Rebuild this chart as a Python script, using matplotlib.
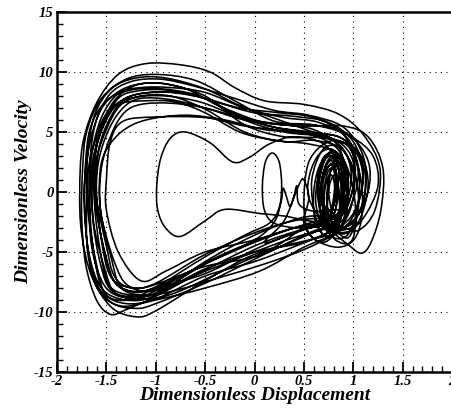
import numpy as np
import matplotlib
matplotlib.use("Agg")
import matplotlib.pyplot as plt
from matplotlib.path import Path
from matplotlib.patches import PathPatch
from matplotlib.ticker import MultipleLocator

# ---------------- data (keypoints: displacement, velocity) ----------------
loop_a = [(0.95,-3.3),(0.55,-4.0),(0.0,-5.2),(-0.5,-7.4),(-1.0,-9.9),(-1.2,-10.4),(-1.45,-9.6),(-1.65,-7.0),
          (-1.75,-3.5),(-1.77,0.0),(-1.74,4.0),(-1.6,7.4),(-1.38,9.8),(-1.1,10.7),(-0.75,10.6),(-0.45,10.0),
          (-0.2,8.7),(0.1,7.6),(0.5,7.3),(0.85,6.5),(1.1,4.8),(1.27,2.0),(1.22,-1.5),(1.05,-3.2),(0.85,-2.8)]
cluster_1 = [(0.7,-2.5),(0.55,-0.5),(0.56,1.5),(0.66,3.2),(0.8,3.5),(0.9,2.0),(0.93,-0.5),(0.88,-2.8),
             (0.75,-3.3),(0.66,-1.5),(0.68,1.0),(0.76,2.6),(0.86,1.6),(0.87,-1.0),(0.8,-2.6),(0.7,-2.0),
             (0.72,0.5),(0.8,2.0),(0.84,0.4),(0.78,-1.8)]
loop_b = [(0.8,-2.6),(0.45,-3.2),(0.0,-4.5),(-0.5,-6.5),(-1.0,-8.7),(-1.3,-9.8),(-1.46,-10.2),(-1.6,-9.0),
          (-1.71,-6.0),(-1.75,-2.0),(-1.74,2.0),(-1.7,5.0),(-1.55,7.8),(-1.3,9.4),(-1.0,9.8),(-0.6,9.3),
          (-0.2,7.6),(0.2,5.9),(0.6,5.6),(0.95,4.8),(1.15,2.6),(1.15,0.0),(1.0,-2.5),(0.8,-3.2)]
loop_c = [(0.7,-3.0),(0.5,-3.6),(0.0,-5.6),(-0.5,-7.6),(-1.0,-9.3),(-1.2,-9.7),(-1.45,-9.2),(-1.63,-7.0),
          (-1.71,-3.0),(-1.72,1.0),(-1.64,5.0),(-1.48,8.0),(-1.25,9.2),(-0.95,9.4),(-0.6,8.8),(-0.2,7.8),
          (0.2,6.8),(0.55,6.4),(0.9,5.4),(1.1,3.0),(1.12,0.0),(1.0,-2.5),(0.8,-3.0)]
cluster_2 = [(0.74,-2.2),(0.64,0.5),(0.7,2.9),(0.85,2.9),(0.94,0.2),(0.9,-2.5),(0.75,-3.8),(0.62,-2.5),
             (0.6,0.0),(0.66,2.2),(0.78,3.0),(0.83,1.0),(0.8,-1.2),(0.74,-1.5),(0.76,0.6),(0.82,1.4),
             (0.86,-0.4),(0.84,-3.0),(0.7,-4.2),(0.55,-3.4),(0.5,-1.0),(0.55,2.5),(0.75,4.2),(0.95,3.8),
             (1.08,1.0),(1.08,-2.4),(0.98,-4.2),(0.82,-4.0)]
loop_d = [(0.75,-2.8),(0.5,-2.8),(0.1,-3.8),(-0.4,-5.5),(-1.0,-8.2),(-1.25,-9.0),(-1.5,-8.6),(-1.6,-6.0),
          (-1.68,-2.0),(-1.68,2.0),(-1.58,5.0),(-1.42,7.6),(-1.2,8.9),(-0.9,9.0),(-0.5,8.0),(-0.1,5.6),
          (0.3,4.6),(0.7,4.5),(1.0,3.6),(1.12,1.5),(1.08,-1.5),(0.9,-3.0)]
loop_e = [(0.8,-3.2),(0.45,-4.4),(0.0,-5.8),(-0.5,-7.0),(-1.0,-8.9),(-1.3,-9.3),(-1.52,-8.4),(-1.62,-5.5),
          (-1.67,-1.0),(-1.65,3.0),(-1.55,6.2),(-1.38,8.2),(-1.15,8.7),(-0.85,8.7),(-0.5,8.3),(-0.1,7.0),
          (0.3,6.2),(0.65,5.8),(0.95,4.4),(1.05,1.5),(0.98,-1.0),(0.85,-2.6)]
peanut = [(0.55,-2.4),(0.3,-2.0),(0.06,-1.8),(-0.3,-1.45),(-0.5,-2.4),(-0.75,-3.7),(-0.9,-3.0),(-0.98,-1.5),
          (-0.99,0.5),(-0.95,2.8),(-0.85,4.5),(-0.7,5.0),(-0.45,4.1),(-0.22,2.5),(-0.05,2.9),(0.15,4.0),
          (0.4,4.6),(0.7,4.0),(0.85,2.0),(0.82,-0.5),(0.72,-2.6)]
loop_f = [(0.65,-2.4),(0.4,-3.0),(0.0,-4.2),(-0.5,-6.0),(-1.0,-8.0),(-1.22,-8.7),(-1.45,-8.2),(-1.56,-6.0),
          (-1.64,-2.0),(-1.64,2.5),(-1.52,5.8),(-1.38,7.8),(-1.2,8.4),(-0.9,8.5),(-0.5,7.8),(-0.1,6.0),
          (0.3,5.0),(0.7,4.6),(1.0,3.6),(1.1,1.0),(1.0,-2.0),(0.85,-3.2)]
cluster_3 = [(0.7,-3.0),(0.62,-0.8),(0.66,1.8),(0.76,3.0),(0.87,2.2),(0.9,-0.2),(0.86,-2.6),(0.76,-3.0),
             (0.69,-1.2),(0.7,1.0),(0.78,2.4),(0.84,1.2),(0.82,-1.4),(0.76,-2.2),(0.73,-0.4),(0.77,1.4),
             (0.81,0.6),(0.79,-1.0),(0.72,-3.6),(0.62,-2.2),(0.58,1.0),(0.7,3.6),(0.88,3.6),(1.02,1.5),
             (1.05,-1.5),(0.95,-3.8),(0.8,-3.0)]
loop_g = [(0.85,-3.0),(0.5,-4.2),(0.0,-5.0),(-0.5,-6.4),(-1.0,-8.5),(-1.25,-8.6),(-1.47,-7.8),(-1.56,-5.0),
          (-1.62,-1.0),(-1.62,3.0),(-1.5,6.0),(-1.35,7.6),(-1.15,8.2),(-0.85,8.3),(-0.5,7.8),(-0.15,7.0),
          (0.25,6.6),(0.6,6.2),(0.9,4.8),(1.02,2.0),(0.95,-1.0),(0.8,-2.5)]
loop_h = [(0.7,-2.7),(0.4,-3.4),(0.0,-4.8),(-0.5,-6.8),(-1.0,-8.0),(-1.2,-8.3),(-1.4,-7.7),(-1.5,-5.5),
          (-1.6,-1.5),(-1.6,2.5),(-1.5,5.2),(-1.36,7.2),(-1.15,8.0),(-0.85,8.0),(-0.5,6.9),(-0.1,5.0),
          (0.3,4.2),(0.6,4.3),(0.88,3.6),(0.98,1.5),(0.92,-1.2),(0.78,-2.8)]
ellipse_loop = [(0.7,-2.8),(0.45,-3.0),(0.2,-2.6),(0.1,-1.5),(0.08,0.5),(0.11,2.5),(0.18,3.25),(0.25,2.5),
                (0.275,0.5),(0.25,-1.3),(0.15,-2.6),(-0.1,-3.6),(-0.5,-5.4),(-1.0,-7.9),(-1.25,-8.3),
                (-1.46,-7.0),(-1.55,-4.0),(-1.6,0.0),(-1.58,3.5),(-1.46,6.2),(-1.3,7.8),(-1.05,8.3),
                (-0.7,8.2),(-0.35,7.4),(0.0,6.6),(0.4,6.3),(0.75,5.8),(1.0,4.2),(1.1,1.5),(1.02,-1.5),(0.85,-3.0)]
loop_i = [(0.75,-2.9),(0.45,-3.9),(0.0,-5.4),(-0.5,-6.2),(-1.0,-7.7),(-1.2,-8.0),(-1.42,-7.4),(-1.52,-5.0),
          (-1.6,-1.0),(-1.58,2.5),(-1.47,5.3),(-1.32,7.1),(-1.15,7.8),(-0.85,7.7),(-0.5,7.0),(-0.1,6.0),
          (0.3,5.6),(0.65,5.5),(0.98,4.6),(1.2,3.0),(1.25,0.5),(1.1,-2.2),(0.9,-3.5)]
cluster_4 = [(0.78,-2.4),(0.68,-0.6),(0.7,1.6),(0.8,2.8),(0.88,1.0),(0.87,-1.6),(0.78,-2.9),(0.7,-1.8),
             (0.68,0.8),(0.74,2.6),(0.83,2.9),(0.9,0.8),(0.88,-2.0),(0.8,-3.3),(0.72,-2.4)]
loop_j = [(0.7,-2.2),(0.4,-2.4),(0.0,-3.4),(-0.5,-5.2),(-1.0,-7.6),(-1.25,-8.0),(-1.42,-7.0),(-1.5,-4.5),
          (-1.6,-0.5),(-1.61,3.0),(-1.55,5.8),(-1.38,7.3),(-1.1,7.6),(-0.8,7.5),(-0.5,6.6),(-0.15,5.0),
          (0.2,4.3),(0.55,4.0),(0.85,3.2),(0.95,1.0),(0.88,-1.5),(0.75,-2.6)]
loop_k = [(0.8,-3.5),(0.5,-4.8),(0.1,-6.0),(-0.3,-7.0),(-0.8,-8.2),(-1.1,-8.6),(-1.35,-8.0),(-1.45,-5.5),
          (-1.56,-1.5),(-1.55,2.0),(-1.45,4.8),(-1.32,6.6),(-1.15,7.3),(-0.85,7.4),(-0.5,7.0),(-0.1,6.1),
          (0.3,5.6),(0.6,5.2),(0.85,3.8),(0.92,1.0),(0.86,-1.5),(0.75,-2.4)]
loop_l = [(0.7,-2.0),(0.45,-2.2),(0.0,-3.6),(-0.5,-5.8),(-1.0,-8.6),(-1.3,-9.0),(-1.55,-8.0),(-1.68,-5.0),
          (-1.72,-1.0),(-1.71,2.5),(-1.66,5.4),(-1.5,7.6),(-1.25,8.5),(-0.95,8.6),(-0.6,8.1),(-0.25,6.8),
          (0.1,5.8),(0.5,5.5),(0.9,5.5),(1.15,4.6),(1.3,2.0),(1.28,-1.5),(1.18,-4.2),(1.08,-5.1),
          (0.95,-4.4),(0.8,-3.4)]
cluster_5 = [(0.7,-2.6),(0.65,0.2),(0.72,2.8),(0.84,3.2),(0.94,1.2),(0.93,-1.8),(0.84,-3.4),(0.74,-2.6),
             (0.7,-0.4),(0.74,1.6),(0.8,1.9),(0.82,0.2),(0.78,-1.6),(0.72,-1.2)]
loop_m = [(0.7,-2.5),(0.4,-3.0),(0.0,-4.0),(-0.5,-5.0),(-0.9,-6.6),(-1.15,-7.4),(-1.38,-5.0),(-1.5,-1.5),
          (-1.5,1.0),(-1.46,4.2),(-1.33,5.9),(-1.0,6.25),(-0.5,6.2),(-0.1,5.5),(0.3,5.1),(0.6,4.7),
          (0.85,3.5),(0.95,1.0),(0.9,-1.5),(0.78,-2.8)]
loop_n = [(0.75,-3.0),(0.4,-3.8),(0.0,-5.0),(-0.5,-6.6),(-1.0,-8.2),(-1.28,-7.8),(-1.42,-5.8),(-1.55,-2.0),
          (-1.57,1.0),(-1.52,3.2),(-1.35,5.0),(-1.1,6.0),(-0.7,6.4),(-0.3,6.0),(0.1,5.2),(0.5,4.9),
          (0.85,4.0),(1.0,1.5),(0.95,-1.0),(0.82,-2.6)]
tangle = [(0.8,-2.0),(0.6,-2.8),(0.35,-3.6),(0.1,-4.2),(0.3,-2.4),(0.45,0.6),(0.5,1.0),(0.55,-0.5),
          (0.5,-2.6),(0.62,-4.0),(0.85,-4.6),(1.0,-3.8),(1.02,-1.0),(0.95,1.8),(0.85,3.0),(0.75,1.0),
          (0.78,-1.5),(0.85,-2.0)]
loop_o = [(0.85,-1.5),(0.6,-1.6),(0.45,-1.0),(0.43,0.5),(0.4,-0.3),(0.36,-1.2),(0.32,-0.3),(0.29,0.3),
          (0.27,-0.8),(0.2,-2.5),(0.0,-4.0),(-0.5,-6.0),(-1.0,-8.4),(-1.3,-8.8),(-1.52,-7.8),(-1.65,-4.5),
          (-1.67,0.0),(-1.65,4.0),(-1.56,6.8),(-1.35,8.5),(-1.05,9.1),(-0.7,8.6),(-0.3,6.9),(0.1,5.6),
          (0.5,5.0),(0.85,4.6),(1.08,3.0),(1.15,0.5),(1.05,-2.5),(0.85,-3.3)]
loop_p = [(0.8,-3.6),(0.5,-4.6),(0.05,-6.6),(-0.5,-8.0),(-1.0,-9.0),(-1.35,-9.5),(-1.58,-8.2),(-1.69,-5.0),
          (-1.7,-1.0),(-1.69,3.0),(-1.62,6.4),(-1.45,8.6),(-1.2,9.5),(-0.9,9.5),(-0.5,8.6),(-0.15,7.2),
          (0.25,6.0),(0.6,5.0),(0.9,4.4),(1.05,2.2),(1.05,-1.0),(0.95,-3.5),(0.8,-3.8)]
cluster_6 = [(0.72,-2.6),(0.64,-0.4),(0.68,2.4),(0.8,3.4),(0.9,2.0),(0.9,-0.8),(0.82,-2.8),(0.72,-3.0),
             (0.66,-1.0),(0.7,1.4),(0.79,2.2),(0.85,0.0),(0.8,-2.0)]
loop_q = [(0.75,-2.4),(0.5,-3.0),(0.2,-4.6),(-0.3,-6.5),(-0.8,-8.4),(-1.1,-8.9),(-1.4,-8.5),(-1.52,-6.3),
          (-1.63,-2.5),(-1.64,1.5),(-1.56,5.0),(-1.42,7.2),(-1.2,7.9),(-0.9,8.0),(-0.55,7.5),(-0.2,6.4),
          (0.2,5.4),(0.55,5.0),(0.85,4.2),(1.0,2.5),(1.0,-0.5),(0.9,-2.6),(0.76,-3.0)]

trajectory_order = [loop_a, cluster_1, loop_b, loop_c, cluster_2, loop_d, loop_e, peanut, loop_f,
                    cluster_3, loop_g, loop_h, ellipse_loop, loop_i, cluster_4, loop_j, loop_k,
                    loop_l, cluster_5, loop_m, loop_n, tangle, loop_o, loop_p, cluster_6, loop_q]

x_ticks = [-2, -1.5, -1, -0.5, 0, 0.5, 1, 1.5, 2]
x_tick_labels = ["-2", "-1.5", "-1", "-0.5", "0", "0.5", "1", "1.5", "2"]
y_ticks = [-15, -10, -5, 0, 5, 10, 15]
y_tick_labels = ["-15", "-10", "-5", "0", "5", "10", "15"]

# ---------------- drawing ----------------
def smooth_path(pts):
    P = np.asarray(pts, dtype=float)
    Pe = np.vstack([P[0], P, P[-1]])
    verts = [P[0]]
    codes = [Path.MOVETO]
    for i in range(len(P) - 1):
        p0, p1, p2, p3 = Pe[i], Pe[i + 1], Pe[i + 2], Pe[i + 3]
        c1 = p1 + (p2 - p0) / 6.0
        c2 = p2 - (p3 - p1) / 6.0
        verts += [c1, c2, p2]
        codes += [Path.CURVE4] * 3
    return Path(verts, codes)

all_pts = []
for seg in trajectory_order:
    all_pts.extend(seg)

fig = plt.figure(figsize=(4.51, 4.08), dpi=100)
ax = fig.add_axes([57 / 451, 36 / 408, 395 / 451, 360 / 408])
ax.set_xlim(-2, 2)
ax.set_ylim(-15, 15)

ax.add_patch(PathPatch(smooth_path(all_pts), fill=False, edgecolor="black", lw=1.15, zorder=3))

font = dict(family="Liberation Serif", weight="bold", style="italic")
ax.set_xticks(x_ticks)
ax.set_xticklabels(x_tick_labels, fontsize=10.5, **font)
ax.set_yticks(y_ticks)
ax.set_yticklabels(y_tick_labels, fontsize=10.5, **font)
ax.xaxis.set_minor_locator(MultipleLocator(0.1))
ax.yaxis.set_minor_locator(MultipleLocator(1))
ax.tick_params(which="both", direction="in", top=False, right=False, color="black")
ax.tick_params(which="major", length=7, width=1.3, pad=2.5)
ax.tick_params(which="minor", length=4, width=1.0)

ax.grid(True, which="major", color="black", linestyle=(0, (1, 4)), lw=0.8, zorder=0)
ax.set_axisbelow(True)

for side in ["left", "bottom", "top"]:
    ax.spines[side].set_linewidth(1.8)
ax.spines["right"].set_linewidth(1.0)

ax.set_xlabel("Dimensionless Displacement", fontsize=14, labelpad=-1, **font)
ax.set_ylabel("Dimensionless Velocity", fontsize=14, labelpad=1, **font)

fig.savefig("out.png", dpi=100)
